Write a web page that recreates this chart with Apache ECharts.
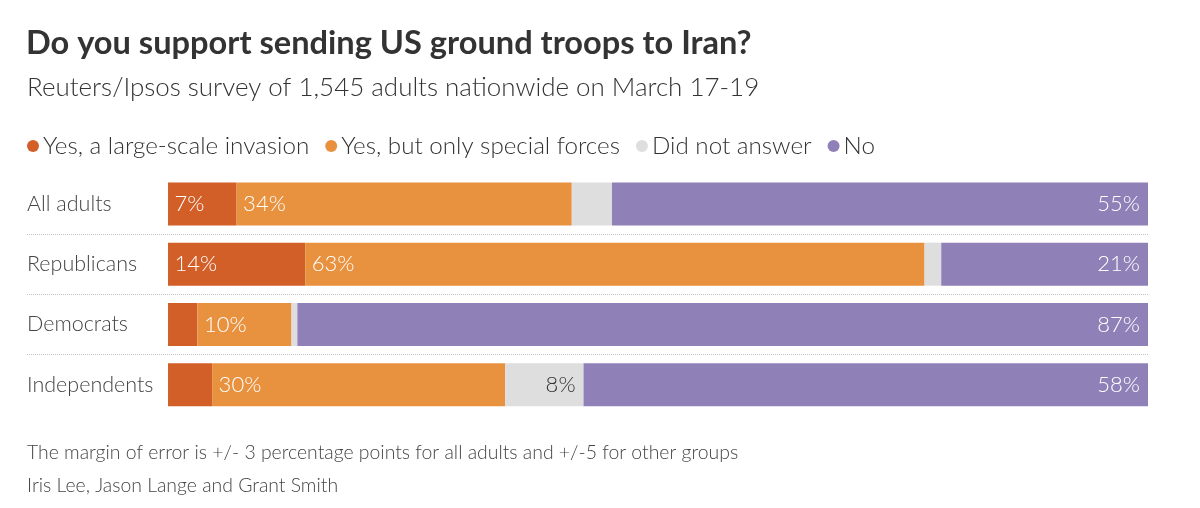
<!DOCTYPE html>
<html>
<head>
<meta charset="utf-8">
<title>Do you support sending US ground troops to Iran?</title>
<style type="text/css">
	html,body{margin:0;padding:0;background:#fff;}
	#main{width:1200px;height:508px;}
</style>
</head>
<body>
<div id="main"></div>
<script src="https://cdn.jsdelivr.net/npm/echarts@6/dist/echarts.min.js"></script>
<script type="text/javascript">
// row order is top to bottom
var groups = ['All adults', 'Republicans', 'Democrats', 'Independents'];
var invasion = [7, 14, 3, 4.5];
var specialForces = [34.2, 63.2, 9.6, 29.9];
var noAnswer = [4.1, 1.7, 0.6, 8];
var no = [54.7, 21.1, 86.8, 57.6];

var FONT = 'Lato';
var LABEL_MIN = 6; // smaller segments carry no label

function barSeries(name, data, color, labelColor, labelPos) {
	return {
		name: name,
		type: 'bar',
		stack: 'total',
		barWidth: 43,
		data: data,
		itemStyle: {color: color},
		label: {
			show: true,
			position: labelPos,
			distance: labelPos == 'insideLeft' ? 6.5 : 8,
			color: labelColor,
			fontFamily: FONT,
			fontWeight: 300,
			fontSize: 22,
			padding: [3, 0, 0, 0],
			formatter: function (p) {
				return p.value >= LABEL_MIN ? Math.round(p.value) + '%' : '';
			}
		}
	};
}

var myChart = echarts.init(document.getElementById('main'), null, {renderer: 'canvas'});
myChart.setOption({
	animation: false,
	title: [
		{
			text: 'Do you support sending US ground troops to Iran?',
			left: 26, top: 27, padding: 0,
			textStyle: {fontFamily: FONT, fontSize: 32.6, fontWeight: 'bold', color: '#333'}
		},
		{
			text: 'Reuters/Ipsos survey of 1,545 adults nationwide on March 17-19',
			left: 27, top: 75, padding: 0,
			textStyle: {fontFamily: FONT, fontSize: 25.95, fontWeight: 300, color: '#333'}
		},
		{
			text: 'The margin of error is +/- 3 percentage points for all adults and +/-5 for other groups',
			left: 27, top: 443, padding: 0,
			textStyle: {fontFamily: FONT, fontSize: 19.4, fontWeight: 300, color: '#444'}
		},
		{
			text: 'Iris Lee, Jason Lange and Grant Smith',
			left: 27, top: 476, padding: 0,
			textStyle: {fontFamily: FONT, fontSize: 19.4, fontWeight: 300, color: '#444'}
		}
	],
	legend: {
		left: 27, top: 134, padding: 0,
		icon: 'circle',
		itemWidth: 12, itemHeight: 12,
		itemGap: 16,
		textStyle: {fontFamily: FONT, fontSize: 24.2, fontWeight: 300, color: '#333', padding: [0, 0, 0, -1]},
		selectedMode: false
	},
	// the axis runs below zero so the row labels and dotted rules share the grid
	grid: {left: 27, right: 52, top: 173.8, height: 241},
	xAxis: {type: 'value', min: -14.39, max: 100, show: false},
	yAxis: {
		type: 'category',
		data: groups,
		inverse: true,
		axisLine: {show: false},
		axisTick: {show: false},
		axisLabel: {inside: true, margin: 0, fontFamily: FONT, fontWeight: 300, fontSize: 21.5, color: '#444', align: 'left', padding: [6, 0, 0, 0]},
		splitLine: {
			show: true,
			showMinLine: false,
			showMaxLine: false,
			lineStyle: {type: 'dotted', color: '#c4c4c4', width: 1}
		}
	},
	series: [
		barSeries('Yes, a large-scale invasion', invasion, '#D35F28', '#fff', 'insideLeft'),
		barSeries('Yes, but only special forces', specialForces, '#E8923F', '#fff', 'insideLeft'),
		barSeries('Did not answer', noAnswer, '#DEDEDE', '#333', 'insideRight'),
		barSeries('No', no, '#9080B8', '#fff', 'insideRight')
	]
});
</script>
</body>
</html>
